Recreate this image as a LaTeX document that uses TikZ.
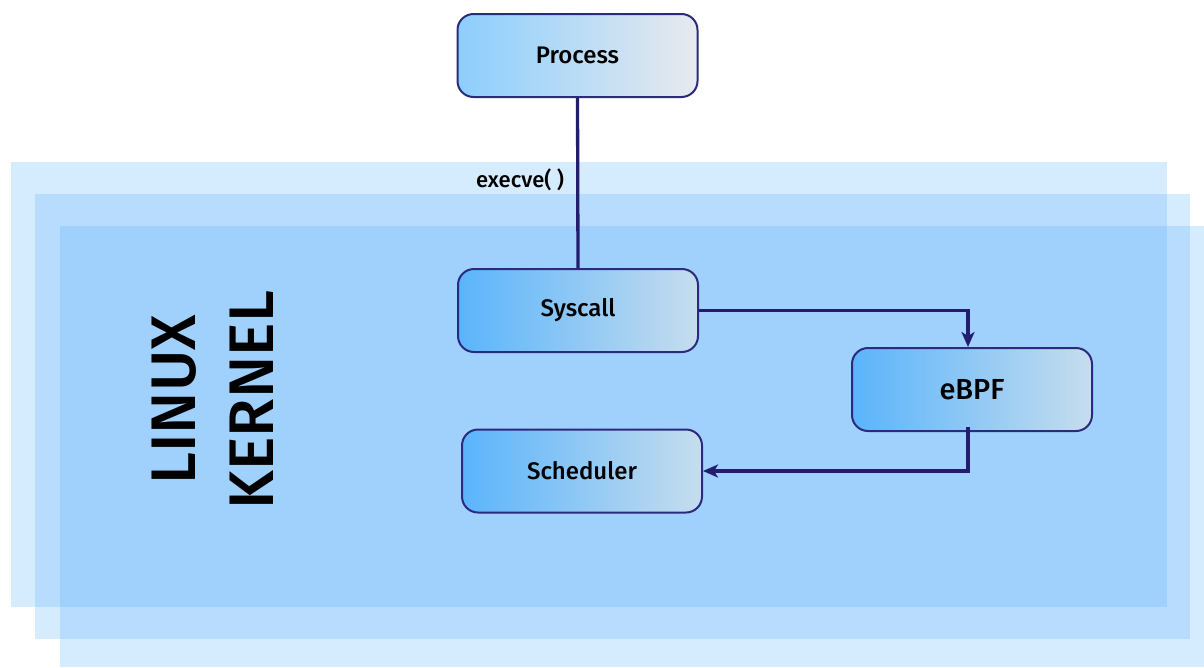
\documentclass[tikz,border=0pt]{standalone}
\usepackage{fontspec}
\setmainfont{Fira Sans Medium}
\usetikzlibrary{arrows.meta}
\definecolor{navy}{HTML}{2C2A7C}
\definecolor{arrowc}{HTML}{231D70}
\definecolor{layer}{RGB}{100,180,250}
\definecolor{boxL}{HTML}{5AB4FB}
\definecolor{boxR}{HTML}{C6DDEE}
\definecolor{procL}{HTML}{8CCEFD}
\definecolor{procR}{HTML}{E8EAEE}
\begin{document}
\begin{tikzpicture}[x=1pt,y=-1pt,
  layerbox/.style={fill=layer, fill opacity=0.27},
  blockbox/.style={draw=navy, line width=2pt, rounded corners=16pt,
    minimum width=240pt, minimum height=83pt, inner sep=0pt,
    left color=boxL, right color=boxR, text=black, font=\fontsize{24}{28}\selectfont},
  conn/.style={draw=arrowc, line width=3.3pt},
  tip/.style={-{Stealth[length=15pt,width=13pt,inset=4pt]}}
]
\useasboundingbox (0,0) rectangle (1204,667);
\fill[layerbox] (11,162) rectangle (1167,607);
\fill[layerbox] (35,194) rectangle (1190,639);
\fill[layerbox] (60,226) rectangle (1204,667);

\node[rotate=90, align=center, font=\fontsize{63}{78}\selectfont] (title) at (213,400) {LINUX\\KERNEL};

\node[blockbox, left color=procL, right color=procR] (process) at (577.5,55.5) {\raisebox{-2pt}{Process}};
\node[blockbox] (syscall) at (578,310.5) {\raisebox{-2pt}{Syscall}};
\node[blockbox, font=\fontsize{29}{33}\selectfont] (ebpf) at (972,389.5) {\raisebox{-1pt}{eBPF}};
\node[blockbox] (sched) at (582,471) {\raisebox{-1pt}{Scheduler}};

\draw[conn] (process.south) -- (syscall.north)
  node[pos=0.48, left, inner sep=0pt, xshift=-12pt, text=black, font=\fontsize{22}{26}\selectfont] (lbl) {execve( )};
\draw[conn, tip] (syscall.east) -| ([xshift=-4pt]ebpf.north);
\draw[conn, tip] ([xshift=-4pt, yshift=5pt]ebpf.south) |- (sched.east);
\end{tikzpicture}
\end{document}
